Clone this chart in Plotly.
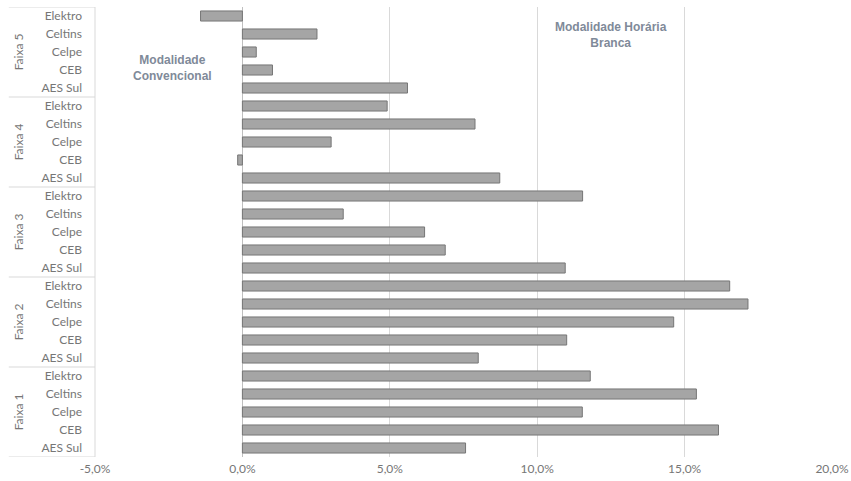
import plotly.graph_objects as go

# Data (values in %)
faixas = ["Faixa 1", "Faixa 2", "Faixa 3", "Faixa 4", "Faixa 5"]
empresas = ["AES Sul", "CEB", "Celpe", "Celtins", "Elektro"]
faixa1 = [7.57, 16.15, 11.53, 15.40, 11.80]
faixa2 = [8.00, 11.00, 14.63, 17.15, 16.53]
faixa3 = [10.95, 6.88, 6.18, 3.42, 11.54]
faixa4 = [8.73, -0.16, 3.01, 7.89, 4.91]
faixa5 = [5.60, 1.02, 0.47, 2.53, -1.42]
x_ticks = [-5, 0, 5, 10, 15, 20]
x_tick_labels = ["-5,0%", "0,0%", "5,0%", "10,0%", "15,0%", "20,0%"]

series = [faixa1, faixa2, faixa3, faixa4, faixa5]
values = [v / 100 for s in series for v in s]
n = len(empresas)
ypos = list(range(len(values)))
labels = empresas * len(faixas)

label_font = dict(family="Lato, Carlito, sans-serif", size=12, color="#767676")
ann_color = "#7f8a99"

fig = go.Figure()
fig.add_trace(go.Bar(
    x=values, y=ypos, orientation="h", width=0.56,
    marker=dict(color="#a5a5a5", line=dict(color="#767676", width=1)),
    showlegend=False,
))

shapes = []
annotations = []
left_edge = -0.117
for i, f in enumerate(faixas):
    lo = i * n - 0.5
    shapes.append(dict(type="line", xref="paper", yref="y", x0=left_edge, x1=0,
                       y0=lo, y1=lo, line=dict(color="#d9d9d9", width=1)))
    annotations.append(dict(text=f, xref="paper", yref="y", x=-0.104,
                            y=i * n + (n - 1) / 2, textangle=-90, showarrow=False,
                            font=label_font, xanchor="center", yanchor="middle"))
top = len(values) - 0.5
shapes.append(dict(type="line", xref="paper", yref="y", x0=left_edge, x1=0,
                   y0=top, y1=top, line=dict(color="#d9d9d9", width=1)))
shapes.append(dict(type="line", xref="paper", yref="y", x0=0, x1=0,
                   y0=-0.5, y1=top, line=dict(color="#d9d9d9", width=1)))

annotations.append(dict(text="<b>Modalidade<br>Convencional</b>", x=-0.0238, y=21.1,
                        xref="x", yref="y", showarrow=False,
                        font=dict(family="Liberation Sans, Arial, sans-serif", size=12, color=ann_color)))
annotations.append(dict(text="<b>Modalidade Horária<br>Branca</b>", x=0.125, y=22.95,
                        xref="x", yref="y", showarrow=False,
                        font=dict(family="Liberation Sans, Arial, sans-serif", size=12, color=ann_color)))

fig.update_layout(
    width=851, height=481,
    margin=dict(l=95, r=19, t=7, b=24),
    paper_bgcolor="white", plot_bgcolor="white",
    shapes=shapes, annotations=annotations,
    xaxis=dict(range=[-0.05, 0.20], tickvals=[t / 100 for t in x_ticks],
               ticktext=x_tick_labels, showgrid=True, gridcolor="#d9d9d9", gridwidth=1,
               zeroline=True, zerolinecolor="#bfbfbf", zerolinewidth=1,
               showline=False, ticks="", tickfont=label_font, ticklabelstandoff=3,
               automargin=False),
    yaxis=dict(range=[-0.5, len(values) - 0.5], tickvals=ypos, ticktext=labels,
               showgrid=False, zeroline=False, showline=False, ticks="",
               tickfont=label_font, ticklabelstandoff=12, automargin=False),
)

fig.write_html("out.html")
